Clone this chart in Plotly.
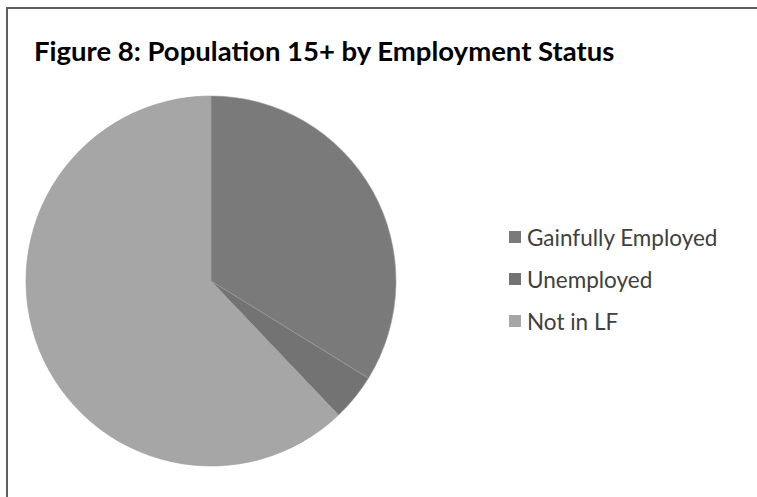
import plotly.graph_objects as go

W, H = 757, 497

title = "Figure 8: Population 15+ by Employment Status"
labels = ["Gainfully Employed", "Unemployed", "Not in LF"]
values = [33.8, 4.1, 62.1]
colors = ["#7a7a7a", "#737373", "#a6a6a6"]

def px(x):
    return x / W

def py(y):
    return 1 - y / H

fig = go.Figure()
fig.add_trace(go.Pie(
    labels=labels,
    values=values,
    sort=False,
    direction="clockwise",
    rotation=0,
    textinfo="none",
    hoverinfo="label+percent",
    marker=dict(colors=colors, line=dict(color="#9a9a9a", width=0.6)),
    domain=dict(x=[px(26), px(396)], y=[py(467), py(95)]),
    showlegend=False,
))

shapes = [
    dict(type="line", xref="paper", yref="paper", x0=px(7), x1=px(7), y0=0, y1=py(8),
         line=dict(color="#5f5f5f", width=2)),
    dict(type="line", xref="paper", yref="paper", x0=px(6), x1=1, y0=py(8), y1=py(8),
         line=dict(color="#5f5f5f", width=2)),
]
annotations = [
    dict(text="<b>" + title + "</b>", xref="paper", yref="paper", x=px(32), y=py(50),
         xanchor="left", yanchor="middle", showarrow=False,
         font=dict(family="Lato", size=27.5, color="#000000")),
]
legend_y = [237, 279, 321]
for lab, col, ly in zip(labels, colors, legend_y):
    shapes.append(dict(type="rect", xref="paper", yref="paper",
                       x0=px(509), x1=px(521), y0=py(ly + 6), y1=py(ly - 6),
                       fillcolor=col, line=dict(width=0)))
    annotations.append(dict(text=lab, xref="paper", yref="paper", x=px(525), y=py(ly),
                            xanchor="left", yanchor="middle", showarrow=False,
                            font=dict(family="Lato", size=22.5, color="#404040")))

fig.update_layout(
    width=W, height=H,
    margin=dict(l=0, r=0, t=0, b=0),
    paper_bgcolor="white",
    plot_bgcolor="white",
    shapes=shapes,
    annotations=annotations,
)

fig.write_html("out.html", config={"displayModeBar": False},
               post_script="document.body.style.margin='0';document.body.style.overflow='hidden';")
